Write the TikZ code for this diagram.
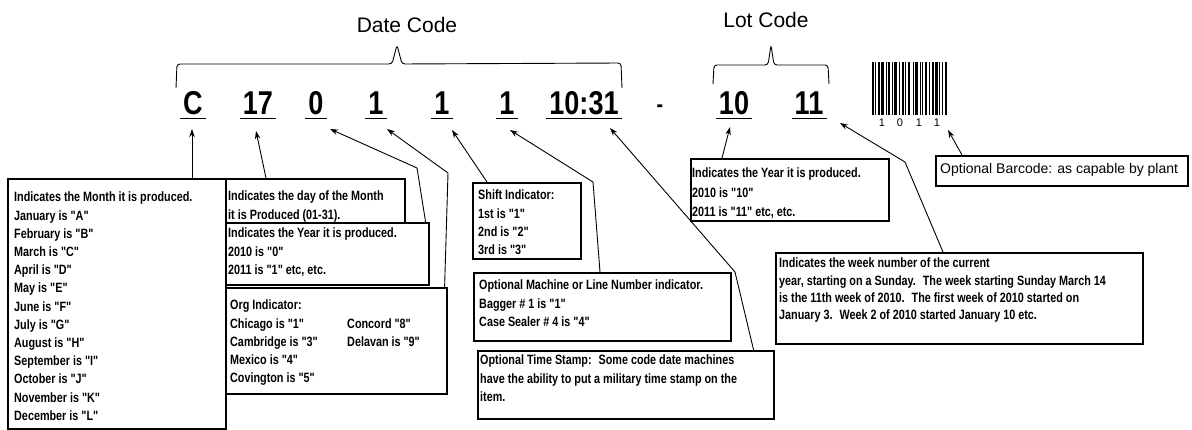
\documentclass[tikz,border=0pt]{standalone}
\usepackage{fontspec}
\setmainfont{Liberation Sans}
\newfontfamily\notefont[FakeStretch=0.8]{Liberation Sans}
\newfontfamily\codefont[FakeStretch=0.82]{Liberation Sans}
\usetikzlibrary{arrows.meta}
\tikzset{
  panel/.style={draw, line width=1.6pt, anchor=north west, inner sep=0pt},
  note/.style={anchor=north west, align=left, inner sep=0pt,
    font=\notefont\bfseries\fontsize{13.5}{18.2}\selectfont},
  code/.style={anchor=base, inner sep=3pt, font=\codefont\bfseries\fontsize{33}{33}\selectfont},
  ptr/.style={-{Stealth[length=8pt,width=5.5pt]}, line width=0.9pt},
  brace/.style={line width=0.9pt, rounded corners=3pt},
}
\begin{document}
\begin{tikzpicture}[x=1pt,y=-1pt]
\useasboundingbox (0,0) rectangle (1192,430);
% headings and braces
\node[font=\fontsize{21}{21}\selectfont] (datelbl) at (407,25) {Date Code};
\node[font=\fontsize{21}{21}\selectfont] (lotlbl) at (766,20) {Lot Code};
\draw[brace] (176,88) -- (177,64) -- (392,64) -- (397,45) -- (402,64) -- (621,63) -- (622,88);
\draw[brace] (713,84) -- (714,65) -- (768,65) -- (771,45) -- (774,65) -- (828,65) -- (829,84);
% the code itself
\foreach \n/\x/\t in {cC/193/C,c17/258/17,c0/316/0,c1a/376/1,c1b/442/1,c1c/507/1,ctime/584/10:31,c10/734/10,c11/809/11}
  {\node[code] (\n) at (\x,115) {\t};
   \draw[line width=1pt] (\n.south west) -- (\n.south east);}
\node[code, font=\codefont\bfseries\fontsize{24}{24}\selectfont] (dash) at (660,113) {-};
% barcode
\foreach \x/\w in {0/1.5,3/1,5.5/2,9/3,13.5/1,16/1.5,19.5/1,22/2.5,27/1,30/1.5,33/1,36/2,40.5/1,43/2.5,47.5/1,50/1,53/2,57/1,60/1.5,63/2.5,67/1,69.5/1.5,72.5/2}
  \fill (872+\x,62) rectangle ++(\w,53);
\foreach \x/\d in {882/1,900/0,919/1,937/1}
  \node[font=\fontsize{11}{11}\selectfont, inner sep=0pt] (bd\x) at (\x,123) {\d};
% boxes
\node[panel, minimum width=218, minimum height=250] (month) at (7,178) {};
\node[panel, minimum width=179, minimum height=44] (day) at (225,178) {};
\node[panel, minimum width=203, minimum height=62] (year) at (225,222) {};
\node[panel, minimum width=221, minimum height=106] (org) at (225,287) {};
\node[panel, minimum width=108, minimum height=76] (shift) at (472,182) {};
\node[panel, minimum width=257, minimum height=68] (machine) at (473,272) {};
\node[panel, minimum width=296, minimum height=68] (time) at (477,350) {};
\node[panel, minimum width=198, minimum height=62] (lot) at (690,158) {};
\node[panel, minimum width=367, minimum height=91] (week) at (775,252) {};
\node[panel, minimum width=252, minimum height=30] (bar) at (935,155) {};
% box texts
\node[note] (monthtxt) at (14,192) {Indicates the Month it is produced.\\January is "A"\\February is "B"\\March is "C"\\April is "D"\\May is "E"\\June is "F"\\July is "G"\\August is "H"\\September is "I"\\October is "J"\\November is "K"\\December is "L"};
\node[note] (daytxt) at (228,191) {Indicates the day of the Month\\it is Produced (01-31).};
\node[note] (yeartxt) at (228,228) {Indicates the Year it is produced.\\2010 is "0"\\2011 is "1" etc, etc.};
\node[note] (orgtxt) at (230,300) {Org Indicator:\\Chicago is "1"\\Cambridge is "3"\\Mexico is "4"\\Covington is "5"};
\node[note] (orgtxtb) at (347,318.2) {Concord "8"\\Delavan is "9"};
\node[note] (shifttxt) at (478,190) {Shift Indicator:\\1st is "1"\\2nd is "2"\\3rd is "3"};
\node[note] (machinetxt) at (479,280) {Optional Machine or Line Number indicator.\\Bagger \# 1 is "1"\\Case Sealer \# 4 is "4"};
\node[note] (timetxt) at (480,355) {Optional Time Stamp:~ Some code date machines\\have the ability to put a military time stamp on the\\item.};
\node[note] (lottxt) at (692,168) {Indicates the Year it is produced.\\[1.3pt]2010 is "10"\\[1.3pt]2011 is "11" etc, etc.};
\node[note] (weektxt) at (779,258) {Indicates the week number of the current\\[-1pt]year, starting on a Sunday.~ The week starting Sunday March 14\\[-1pt]is the 11th week of 2010.~ The first week of 2010 started on\\[-1pt]January 3.~ Week 2 of 2010 started January 10 etc.};
\node[anchor=west, inner sep=0pt, font=\fontsize{14}{14}\selectfont] (bartxt) at (940,170) {Optional Barcode: as capable by plant};
% arrows
\path (192,129) coordinate (tC) (256,131) coordinate (t17)
  (330,129) coordinate (t0) (417,168) coordinate (k0)
  (387,129) coordinate (t1a) (448,173) coordinate (k1a)
  (452,130) coordinate (t1b) (510,130) coordinate (t1c) (593,182) coordinate (k1c)
  (610,128) coordinate (tT) (735,272) coordinate (kT)
  (730,127) coordinate (t10) (840,123) coordinate (t11) (905,162) coordinate (k11)
  (948,130) coordinate (tB);
\draw[ptr] (month.north -| tC) -- (tC);
\draw[ptr] ([xshift=41]day.north west) -- (t17);
\draw[ptr] ([xshift=-4]year.north east) -- (k0) -- (t0);
\draw[ptr] ([xshift=-3]org.north east) -- (k1a) -- (t1a);
\draw[ptr] ([xshift=15]shift.north west) -- (t1b);
\draw[ptr] ([xshift=127]machine.north west) -- (k1c) -- (t1c);
\draw[ptr] ([xshift=-21]time.north east) -- (kT) -- (tT);
\draw[ptr] ([xshift=32]lot.north west) -- (t10);
\draw[ptr] ([xshift=168]week.north west) -- (k11) -- (t11);
\draw[ptr] ([xshift=27]bar.north west) -- (tB);
\end{tikzpicture}
\end{document}
